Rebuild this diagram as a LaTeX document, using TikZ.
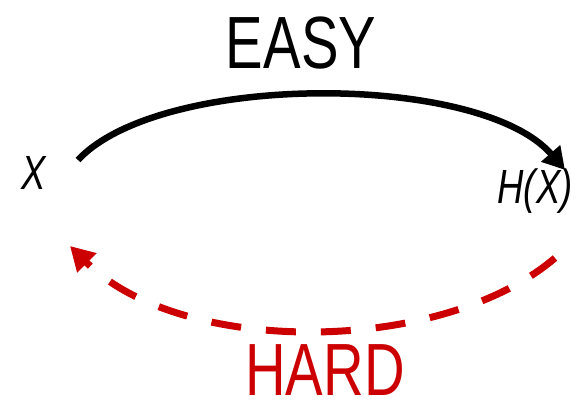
\documentclass[tikz,border=0pt]{standalone}
\usepackage{fontspec}
\setmainfont{Liberation Sans}[FakeStretch=0.76]
\usepackage{xcolor}
\usetikzlibrary{arrows.meta}
\definecolor{hardred}{HTML}{CC0000}

\begin{document}
\begin{tikzpicture}[x=1pt,y=-1pt,
  word/.style={inner sep=0pt,anchor=base,font=\fontsize{74}{78}\selectfont},
  var/.style={inner sep=0pt,anchor=base,font=\fontsize{48}{52}\selectfont\itshape},
  easyarc/.style={line width=6.5pt,-{Triangle[length=22pt,width=24pt]}},
  hardarc/.style={hardred,line width=7pt,dash pattern=on 30pt off 25pt,-{Triangle[length=24pt,width=26pt]}}]

  \useasboundingbox (0,0) rectangle (576,405);

  % the two ends
  \node[var] (X) at (34,189) {X};
  \node[var] (HX) at (535,203) {H(X)};

  % labels
  \node[word] (easy) at (301,68) {EASY};
  \node[word,text=hardred] (hard) at (325,395) {HARD};

  \coordinate (e0) at (78,160);
  \coordinate (e1) at (565,170);
  \coordinate (h0) at (555,258);
  \coordinate (h1) at (70,246);

  \draw[easyarc] (e0) .. controls (160,72) and (480,72) .. (e1);
  \draw[hardarc] (h0) .. controls (440,356) and (180,356) .. (h1);

\end{tikzpicture}
\end{document}
